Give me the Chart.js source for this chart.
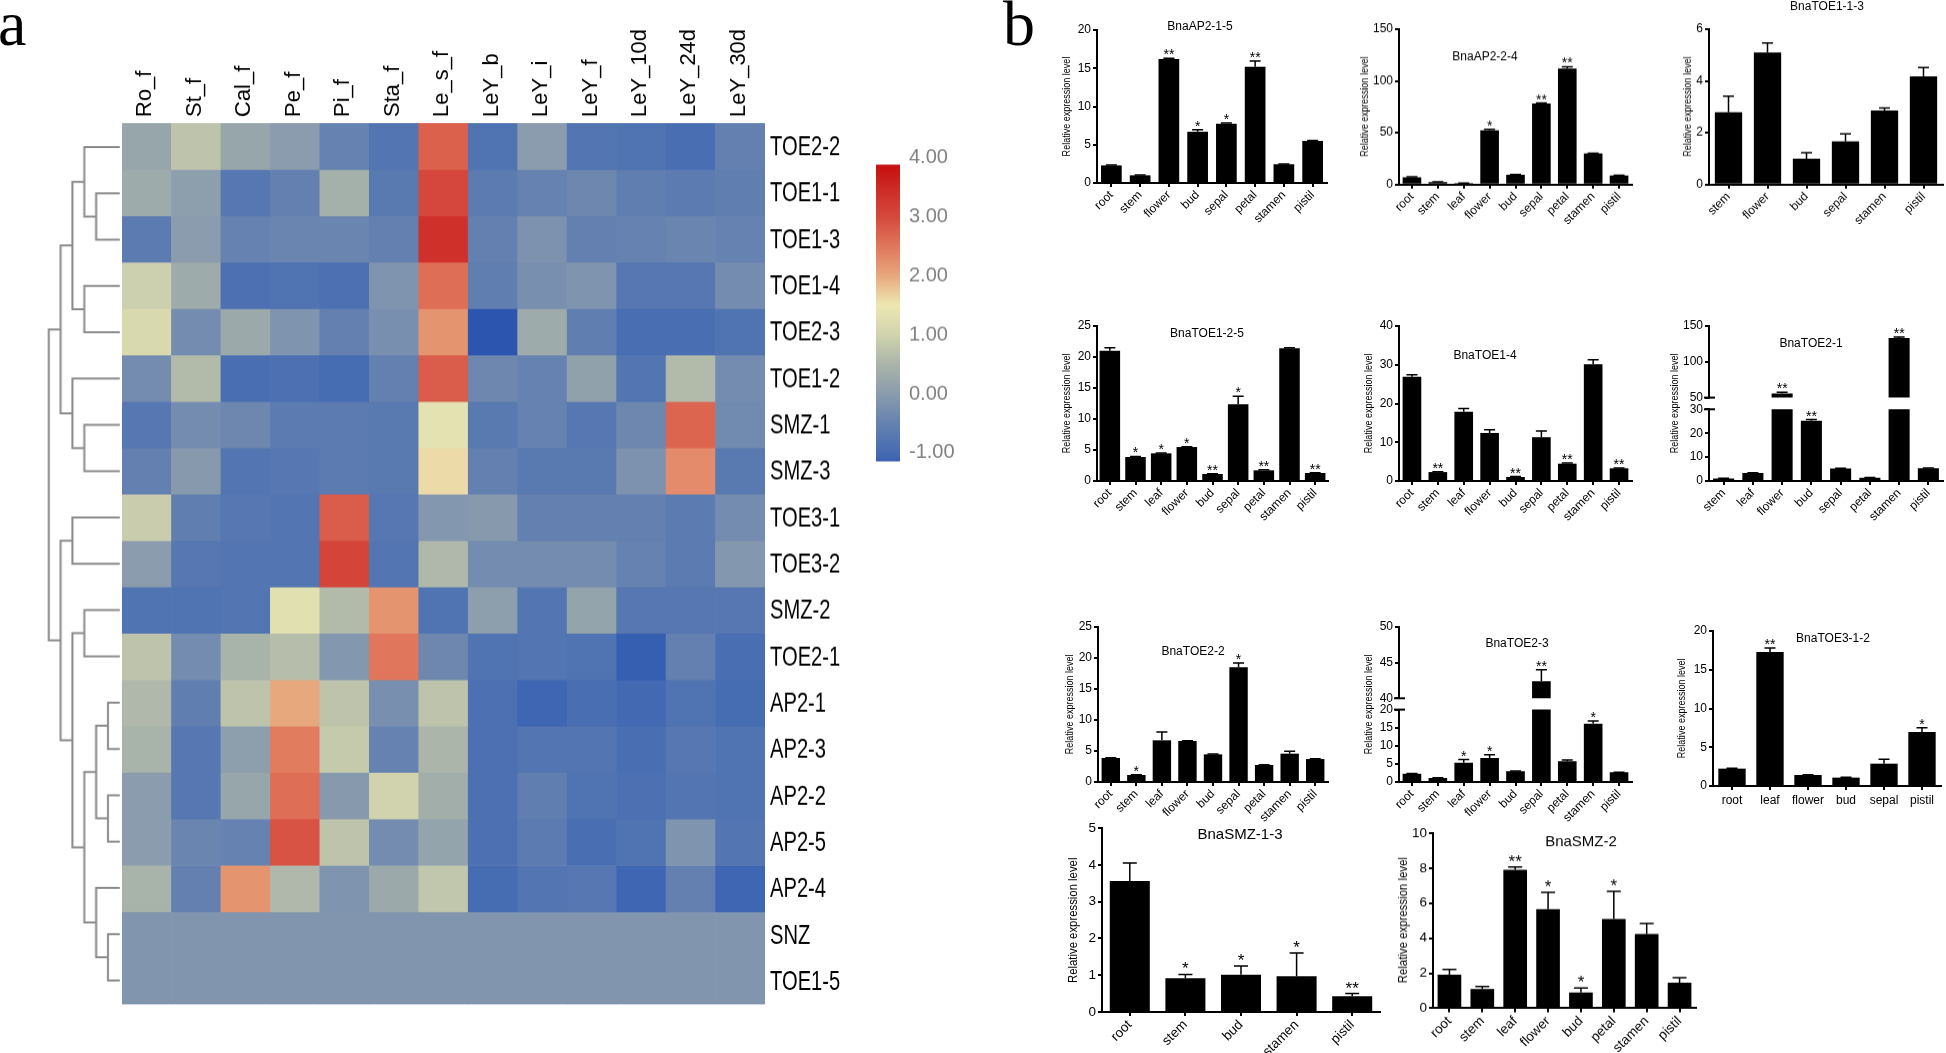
<!DOCTYPE html>
<html><head><meta charset="utf-8">
<script src="https://cdn.jsdelivr.net/npm/chart.js@4.4.0/dist/chart.umd.min.js"></script>
<style>
html,body{margin:0;padding:0;background:#fff;}
body{width:1946px;height:1053px;position:relative;overflow:hidden;}
.letter{position:absolute;font-family:'Liberation Serif','Times New Roman',serif;font-size:64px;line-height:64px;color:#000;}
</style></head><body>
<div class="letter" style="left:-2px;top:-8px">a</div>
<div class="letter" style="left:1003px;top:-8px">b</div>
<script>
// ---------------- DATA ----------------
const heatCols = ['Ro_f','St_f','Cal_f','Pe_f','Pi_f','Sta_f','Le_s_f','LeY_b','LeY_i','LeY_f','LeY_10d','LeY_24d','LeY_30d'];
const heatRows = ['TOE2-2','TOE1-1','TOE1-3','TOE1-4','TOE2-3','TOE1-2','SMZ-1','SMZ-3','TOE3-1','TOE3-2','SMZ-2','TOE2-1','AP2-1','AP2-3','AP2-2','AP2-5','AP2-4','SNZ','TOE1-5'];
const heatValues = [
  [0.2, 0.75, 0.2, 0.0, -0.5, -0.8, 2.75, -0.85, 0.0, -0.8, -0.85, -0.95, -0.55],
  [0.3, 0.05, -0.75, -0.55, 0.4, -0.7, 3.05, -0.65, -0.5, -0.4, -0.6, -0.65, -0.6],
  [-0.65, 0.0, -0.5, -0.45, -0.45, -0.55, 3.4, -0.55, -0.2, -0.55, -0.5, -0.45, -0.5],
  [0.95, 0.3, -0.9, -0.85, -0.9, -0.15, 2.6, -0.6, -0.25, -0.15, -0.75, -0.75, -0.3],
  [1.15, -0.3, 0.25, -0.15, -0.55, -0.25, 2.2, -1.35, 0.3, -0.6, -0.95, -0.95, -0.85],
  [-0.3, 0.6, -0.95, -0.9, -1.0, -0.55, 2.8, -0.4, -0.5, 0.1, -0.8, 0.6, -0.3],
  [-0.75, -0.3, -0.4, -0.65, -0.65, -0.7, 1.35, -0.7, -0.5, -0.75, -0.4, 2.7, -0.35],
  [-0.55, -0.05, -0.8, -0.75, -0.65, -0.7, 1.6, -0.55, -0.7, -0.7, -0.2, 2.3, -0.7],
  [0.9, -0.6, -0.75, -0.8, 2.8, -0.75, -0.1, -0.05, -0.55, -0.55, -0.55, -0.65, -0.3],
  [0.0, -0.75, -0.8, -0.8, 3.1, -0.8, 0.55, -0.3, -0.3, -0.3, -0.5, -0.65, -0.1],
  [-0.85, -0.85, -0.8, 1.3, 0.6, 2.2, -0.85, 0.05, -0.8, 0.15, -0.75, -0.75, -0.75],
  [0.75, -0.3, 0.45, 0.65, -0.1, 2.5, -0.4, -0.85, -0.8, -0.85, -1.2, -0.55, -0.95],
  [0.55, -0.6, 0.75, 2.0, 0.75, -0.25, 0.75, -0.9, -1.1, -0.95, -1.05, -0.85, -1.0],
  [0.45, -0.75, 0.05, 2.45, 0.85, -0.5, 0.5, -0.9, -0.8, -0.8, -0.95, -0.75, -0.85],
  [0.0, -0.75, 0.2, 2.6, -0.05, 1.0, 0.35, -0.9, -0.6, -0.85, -0.9, -0.8, -0.85],
  [0.0, -0.45, -0.5, 2.9, 0.75, -0.3, 0.15, -0.9, -0.65, -0.95, -0.85, -0.15, -0.8],
  [0.45, -0.55, 2.2, 0.55, -0.15, 0.25, 0.8, -1.0, -0.8, -0.75, -1.1, -0.55, -1.1],
  [-0.12, -0.12, -0.12, -0.12, -0.12, -0.12, -0.12, -0.12, -0.12, -0.12, -0.12, -0.12, -0.12],
  [-0.12, -0.12, -0.12, -0.12, -0.12, -0.12, -0.12, -0.12, -0.12, -0.12, -0.12, -0.12, -0.12]
];
// dendrogram merges: [childA, childB, level]; leaves 0..18, new clusters numbered from 19
const dendroMerges = [
  [1,2,2],[0,19,3],[3,4,3],[20,21,4],[6,7,3],[5,23,4],[22,24,5],
  [8,9,4],[10,11,3],[12,13,1],[14,15,1],[28,29,2],[17,18,1],[16,31,2],[30,32,3],[27,33,4],[26,34,5],[25,35,6]
];
const colorbarTicks = [-1,0,1,2,3,4];
const colorbarRange = [-1.14, 3.88];

const ap215Cats = ['root','stem','flower','bud','sepal','petal','stamen','pistil'];
const ap215Vals = [2.3, 1.0, 16.2, 6.7, 7.75, 15.2, 2.45, 5.5];
const ap215Err  = [0.05, 0.05, 0.1, 0.25, 0.08, 0.75, 0.05, 0.05];
const ap215Sig  = ['','','**','*','*','**','',''];
const ap215Ticks = [0,5,10,15,20];

const ap224Cats = ['root','stem','leaf','flower','bud','sepal','petal','stamen','pistil'];
const ap224Vals = [7.1, 2.3, 1.3, 52.3, 9.4, 78.2, 112, 30, 8.7];
const ap224Err  = [0.3, 0.2, 0.2, 1.0, 0.3, 0.5, 1.7, 0.3, 0.3];
const ap224Sig  = ['','','','*','','**','**','',''];
const ap224Ticks = [0,50,100,150];

const toe113Cats = ['stem','flower','bud','sepal','stamen','pistil'];
const toe113Vals = [2.79, 5.1, 1.0, 1.67, 2.86, 4.18];
const toe113Err  = [0.62, 0.37, 0.23, 0.29, 0.1, 0.34];
const toe113Sig  = ['','','','','',''];
const toe113Ticks = [0,2,4,6];

const toe125Cats = ['root','stem','leaf','flower','bud','sepal','petal','stamen','pistil'];
const toe125Vals = [21.0, 3.87, 4.46, 5.48, 1.13, 12.37, 1.72, 21.4, 1.29];
const toe125Err  = [0.5, 0.1, 0.05, 0.05, 0.05, 1.3, 0.1, 0.1, 0.05];
const toe125Sig  = ['','*','*','*','**','*','**','','**'];
const toe125Ticks = [0,5,10,15,20,25];

const toe14Cats = ['root','stem','leaf','flower','bud','sepal','petal','stamen','pistil'];
const toe14Vals = [26.9, 2.3, 17.9, 12.4, 1.03, 11.3, 4.47, 30.1, 3.27];
const toe14Err  = [0.5, 0.1, 0.8, 0.85, 0.1, 1.6, 0.15, 1.2, 0.1];
const toe14Sig  = ['','**','','','**','','**','','**'];
const toe14Ticks = [0,10,20,30,40];

const toe21Cats = ['stem','leaf','flower','bud','sepal','petal','stamen','pistil'];
const toe21Vals = [1.0, 3.3, 55.6, 25.2, 5.2, 1.4, 133.3, 5.3];
const toe21Err  = [0.1, 0.1, 1.8, 0.5, 0.1, 0.1, 1.4, 0.1];
const toe21Sig  = ['','','**','**','','','**',''];
const toe21TicksUpper = [50,100,150];
const toe21TicksLower = [0,10,20,30];

const toe22Cats = ['root','stem','leaf','flower','bud','sepal','petal','stamen','pistil'];
const toe22Vals = [3.87, 1.13, 6.72, 6.61, 4.46, 18.5, 2.74, 4.57, 3.7];
const toe22Err  = [0.05, 0.05, 1.35, 0.05, 0.05, 0.7, 0.05, 0.38, 0.05];
const toe22Sig  = ['','*','','','','*','','',''];
const toe22Ticks = [0,5,10,15,20,25];

const toe23Cats = ['root','stem','leaf','flower','bud','sepal','petal','stamen','pistil'];
const toe23Vals = [2.3, 1.1, 5.35, 6.64, 2.95, 42.4, 5.7, 16.1, 2.67];
const toe23Err  = [0.05, 0.05, 0.85, 0.9, 0.1, 1.6, 0.35, 0.75, 0.05];
const toe23Sig  = ['','','*','*','','**','','*',''];
const toe23TicksUpper = [40,45,50];
const toe23TicksLower = [0,5,10,15,20];

const toe312Cats = ['root','leaf','flower','bud','sepal','pistil'];
const toe312Vals = [2.24, 17.3, 1.42, 1.08, 2.88, 6.97];
const toe312Err  = [0.05, 0.5, 0.04, 0.04, 0.56, 0.56];
const toe312Sig  = ['','**','','','','*'];
const toe312Ticks = [0,5,10,15,20];

const smz13Cats = ['root','stem','bud','stamen','pistil'];
const smz13Vals = [3.56, 0.92, 1.01, 0.97, 0.43];
const smz13Err  = [0.49, 0.1, 0.24, 0.63, 0.07];
const smz13Sig  = ['','*','*','*','**'];
const smz13Ticks = [0,1,2,3,4,5];

const smz2Cats = ['root','stem','leaf','flower','bud','petal','stamen','pistil'];
const smz2Vals = [1.91, 1.1, 7.9, 5.66, 0.9, 5.1, 4.24, 1.45];
const smz2Err  = [0.31, 0.14, 0.17, 0.95, 0.25, 1.58, 0.6, 0.3];
const smz2Sig  = ['','','**','*','*','*','',''];
const smz2Ticks = [0,2,4,6,8,10];

const yTitleText = 'Relative expression level';

// ---------------- STYLE / HELPERS ----------------
const FONT = "'Liberation Sans', Arial, Helvetica, sans-serif";
Chart.defaults.font.family = FONT;
Chart.defaults.color = '#000';
const AXW = 2;

const cmapStops = [
  [-1.4,[40,82,176]],[-1.0,[70,108,178]],[-0.5,[102,130,176]],[0.0,[138,156,173]],
  [0.5,[171,181,169]],[1.0,[208,211,174]],[1.5,[237,232,178]],[2.0,[232,168,126]],
  [2.5,[224,119,92]],[3.0,[214,74,62]],[3.5,[205,42,37]],[4.0,[196,8,8]]
];
function colorFor(v){
  if (v <= cmapStops[0][0]) return 'rgb('+cmapStops[0][1].join(',')+')';
  for (let i=1;i<cmapStops.length;i++){
    if (v <= cmapStops[i][0]){
      const [a,ca]=cmapStops[i-1],[b,cb]=cmapStops[i]; const t=(v-a)/(b-a);
      return 'rgb('+ca.map((c,k)=>Math.round(c+(cb[k]-c)*t)).join(',')+')';
    }
  }
  return 'rgb('+cmapStops[cmapStops.length-1][1].join(',')+')';
}
function addBox(left, top, width, height){
  const d=document.createElement('div');
  d.style.cssText=`position:absolute;left:${left}px;top:${top}px;width:${width}px;height:${height}px;`;
  const c=document.createElement('canvas'); d.appendChild(c); document.body.appendChild(d);
  return c;
}
// condensed text: regular font squeezed horizontally along the text direction
function narrowText(ctx, text, x, y, size, sx, rot){
  ctx.save(); ctx.translate(x,y); if (rot) ctx.rotate(rot); ctx.scale(sx,1);
  ctx.font = size+'px '+FONT; ctx.fillText(text,0,0); ctx.restore();
}
const noPlug = {legend:{display:false}, tooltip:{enabled:false}};

// ---------------- HEATMAP ----------------
(function(){
  const plotL=122, plotR=765, plotTop=123, plotBottom=1003.5, padL=10, padB=26, labW=110;
  const cv = addBox(plotL-padL, 0, (plotR-plotL)+padL+labW, plotBottom+padB);
  const rowLabels = {id:'rowLabels', afterDraw(chart){
    const ctx=chart.ctx, ys=chart.scales.y, ca=chart.chartArea;
    ctx.save(); ctx.fillStyle='#000'; ctx.textAlign='left'; ctx.textBaseline='middle';
    heatRows.forEach((name,i)=>narrowText(ctx, name, ca.right+5, ys.getPixelForValue(i+0.5)+1, 28, 0.72, 0));
    ctx.restore();
  }};
  new Chart(cv, {
    type:'bar',
    data:{labels:heatCols, datasets: heatRows.map((name,r)=>({
      label:name, data: heatCols.map(()=>[r, r+1]),
      backgroundColor: heatValues[r].map(colorFor), borderWidth:0,
      barPercentage:1, categoryPercentage:1 }))},
    options:{responsive:true, maintainAspectRatio:false, animation:false,
      layout:{padding:{left:padL, right:0, top:0, bottom:padB}},
      plugins:noPlug,
      scales:{
        x:{position:'top', stacked:true, grid:{display:false, drawTicks:false}, border:{display:false},
           ticks:{autoSkip:false, minRotation:90, maxRotation:90, padding:6, labelOffset:25, color:'#000', font:{family:FONT, size:22}},
           afterFit:s=>{s.height=plotTop;}},
        y:{position:'right', min:0, max:heatRows.length, reverse:true,
           grid:{display:false, drawTicks:false}, border:{display:false},
           ticks:{display:false},
           afterFit:s=>{s.width=labW;}}
      }},
    plugins:[rowLabels]
  });
})();

// ---------------- DENDROGRAM ----------------
(function(){
  const right=120, perLevel=12, top=123, bottom=1003.5, maxLv=6.4;
  const cv = addBox(right-perLevel*maxLv, top, perLevel*maxLv, bottom-top);
  const nodes = heatRows.map((_,i)=>({y:i+0.5, lv:0}));
  const segs = [];
  dendroMerges.forEach(([a,b,lv])=>{
    const A=nodes[a], B=nodes[b];
    segs.push([{x:A.lv,y:A.y},{x:lv,y:A.y},{x:lv,y:B.y},{x:B.lv,y:B.y}]);
    nodes.push({y:(A.y+B.y)/2, lv:lv});
  });
  new Chart(cv, {type:'scatter',
    data:{datasets: segs.map(p=>({data:p, showLine:true, borderColor:'#8a8a8a', borderWidth:2, pointRadius:0, clip:false, tension:0}))},
    options:{responsive:true, maintainAspectRatio:false, animation:false, layout:{padding:0}, plugins:noPlug,
      scales:{x:{type:'linear', display:false, min:0, max:maxLv, reverse:true},
              y:{type:'linear', display:false, min:0, max:heatRows.length, reverse:true}}}});
})();

// ---------------- COLOR BAR ----------------
(function(){
  const barL=876, barR=900, px=58.8, y4=158, yMax=4.1, yMin=-1.2, labW=70, pad=26;
  const aTop = y4-(yMax-4)*px, aBot = y4+(4-yMin)*px;
  const cv = addBox(barL, aTop-pad, (barR-barL)+labW, (aBot-aTop)+2*pad);
  new Chart(cv, {type:'bar',
    data:{labels:[''], datasets:[{data:[colorbarRange], borderWidth:0, barPercentage:1, categoryPercentage:1,
      backgroundColor:(ctx)=>{
        const ch=ctx.chart; if(!ch.chartArea) return '#888';
        const ys=ch.scales.y; const p0=ys.getPixelForValue(colorbarRange[0]), p1=ys.getPixelForValue(colorbarRange[1]);
        const g=ch.ctx.createLinearGradient(0,p0,0,p1);
        const span=colorbarRange[1]-colorbarRange[0];
        g.addColorStop(0,colorFor(colorbarRange[0]));
        cmapStops.forEach(s=>{const t=(s[0]-colorbarRange[0])/span; if(t>0&&t<1) g.addColorStop(t,colorFor(s[0]));});
        g.addColorStop(1,colorFor(colorbarRange[1]));
        return g;}}]},
    options:{responsive:true, maintainAspectRatio:false, animation:false,
      layout:{padding:{top:pad, bottom:pad, left:0, right:0}}, plugins:noPlug,
      scales:{x:{display:false},
        y:{position:'right', min:yMin, max:yMax, grid:{display:false, drawTicks:false}, border:{display:false},
           afterBuildTicks:s=>{s.ticks=colorbarTicks.map(v=>({value:v}));},
           ticks:{padding:9, color:'#808080', font:{family:FONT, size:20}, callback:v=>Number(v).toFixed(2)},
           afterFit:s=>{s.width=labW;}}}}});
})();

// ---------------- BAR PANELS ----------------
function barPart(spec, part){
  const big = !!spec.big;
  const padLeft=48, padRight=14, padTop=32, padBottom= big?60:52;
  const a = part.area;
  const left = a.l - padLeft;
  const top = part.boxTop!==undefined ? part.boxTop : a.t - padTop;
  const bottomExtra = part.showX ? padBottom : 14;
  const cv = addBox(left, top, a.r+padRight-left, a.b+bottomExtra-top);
  const tickFont = {family:FONT, size: big?13.5:12};
  const deco = {id:'deco', afterDatasetsDraw(chart){
    const ctx=chart.ctx, xs=chart.scales.x, ys=chart.scales.y, ca=chart.chartArea;
    ctx.save(); ctx.strokeStyle='#000'; ctx.fillStyle='#000'; ctx.lineWidth=1.5;
    const cap = big?14:11;
    spec.vals.forEach((v,i)=>{
      if (v < part.min || v > part.max) return;
      const e = spec.err[i]||0;
      const px = xs.getPixelForValue(i), p0=ys.getPixelForValue(v), p1=ys.getPixelForValue(v+e);
      if (e>0){ ctx.beginPath(); ctx.moveTo(px,p0); ctx.lineTo(px,p1); ctx.moveTo(px-cap/2,p1); ctx.lineTo(px+cap/2,p1); ctx.stroke(); }
      if (spec.sig[i]){ ctx.font=(big?17:14)+'px '+FONT; ctx.textAlign='center'; ctx.textBaseline='alphabetic';
        ctx.fillText(spec.sig[i], px, p1+(big?0:1)); }
    });
    if (part.drawTitle){ ctx.font=(big?15:12)+'px '+FONT; ctx.textAlign='center'; ctx.textBaseline='middle';
      ctx.fillText(spec.title, spec.titlePos[0]-left, spec.titlePos[1]-top); }
    if (part.drawYTitle){ ctx.textAlign='center'; ctx.textBaseline='middle';
      narrowText(ctx, yTitleText, spec.yTitlePos[0]-left, spec.yTitlePos[1]-top, big?13.5:11, big?0.84:0.82, -Math.PI/2); }
    ctx.lineWidth=AXW;
    if (part.breakBottom){ ctx.beginPath(); ctx.moveTo(ca.left-5,ca.bottom); ctx.lineTo(ca.left+6,ca.bottom); ctx.stroke(); }
    if (part.breakTop){ ctx.beginPath(); ctx.moveTo(ca.left-5,ca.top); ctx.lineTo(ca.left+6,ca.top); ctx.stroke(); }
    ctx.restore();
  }};
  new Chart(cv, {type:'bar',
    data:{labels:spec.cats, datasets:[{data:spec.vals, backgroundColor:'#000', borderWidth:0, barPercentage:spec.barPct||0.72, categoryPercentage:1}]},
    options:{responsive:true, maintainAspectRatio:false, animation:false,
      layout:{padding:{left:0, right:padRight, top:a.t-top, bottom: part.showX?0:bottomExtra}},
      plugins:noPlug,
      scales:{
        x:{display:part.showX, offset:true,
           grid:{display:true, drawOnChartArea:false, drawTicks:true, tickLength:4, offset:false, color:'#000', lineWidth:AXW},
           border:{display:true, color:'#000', width:AXW},
           ticks:{autoSkip:false, minRotation:spec.rot, maxRotation:spec.rot, padding:spec.rot?1:3, color:'#000', font:tickFont},
           afterFit:s=>{ if(part.showX) s.height=padBottom; }},
        y:{min:part.min, max:part.max,
           grid:{display:true, drawOnChartArea:false, drawTicks:true, tickLength:4, color:'#000', lineWidth:AXW},
           border:{display:true, color:'#000', width:AXW},
           afterBuildTicks:s=>{s.ticks=part.ticks.map(v=>({value:v}));},
           ticks:{padding:2, color:'#000', font:tickFont},
           afterFit:s=>{s.width=padLeft;}}
      }},
    plugins:[deco]});
}
function simplePanel(spec, area, min, max, ticks){
  barPart(spec, {area, min, max, ticks, showX:true, drawTitle:true, drawYTitle:true});
}
function brokenPanel(spec, upArea, upMin, upMax, upTicks, loArea, loMin, loMax, loTicks){
  barPart(spec, {area:loArea, min:loMin, max:loMax, ticks:loTicks, showX:true, boxTop:upArea.t-32, drawTitle:false, drawYTitle:true, breakTop:true});
  barPart(spec, {area:upArea, min:upMin, max:upMax, ticks:upTicks, showX:false, drawTitle:true, drawYTitle:false, breakBottom:true});
}

simplePanel({cats:ap215Cats, vals:ap215Vals, err:ap215Err, sig:ap215Sig, rot:45, title:'BnaAP2-1-5', titlePos:[1200,27], yTitlePos:[1067,106.5]},
  {l:1097,r:1327,t:30,b:183}, 0, 20, ap215Ticks);
simplePanel({cats:ap224Cats, vals:ap224Vals, err:ap224Err, sig:ap224Sig, rot:45, title:'BnaAP2-2-4', titlePos:[1485,57], yTitlePos:[1365,106.5]},
  {l:1399,r:1632,t:29.3,b:184}, 0, 150, ap224Ticks);
simplePanel({cats:toe113Cats, vals:toe113Vals, err:toe113Err, sig:toe113Sig, rot:45, barPct:0.7, title:'BnaTOE1-1-3', titlePos:[1827,7], yTitlePos:[1688,106.5]},
  {l:1709,r:1943,t:29.3,b:184}, 0, 6, toe113Ticks);
simplePanel({cats:toe125Cats, vals:toe125Vals, err:toe125Err, sig:toe125Sig, rot:45, barPct:0.8, title:'BnaTOE1-2-5', titlePos:[1207,333], yTitlePos:[1067,403]},
  {l:1097,r:1328,t:325.7,b:480.7}, 0, 25, toe125Ticks);
simplePanel({cats:toe14Cats, vals:toe14Vals, err:toe14Err, sig:toe14Sig, rot:45, title:'BnaTOE1-4', titlePos:[1485,355], yTitlePos:[1369,403]},
  {l:1399,r:1632,t:325.7,b:480.7}, 0, 40, toe14Ticks);
brokenPanel({cats:toe21Cats, vals:toe21Vals, err:toe21Err, sig:toe21Sig, rot:45, title:'BnaTOE2-1', titlePos:[1811,343], yTitlePos:[1675,403]},
  {l:1709,r:1943,t:325.7,b:397.3}, 50, 150, toe21TicksUpper,
  {l:1709,r:1943,t:409,b:480.7}, 0, 30, toe21TicksLower);
simplePanel({cats:toe22Cats, vals:toe22Vals, err:toe22Err, sig:toe22Sig, rot:45, title:'BnaTOE2-2', titlePos:[1193,651], yTitlePos:[1070,704]},
  {l:1098,r:1328,t:626.7,b:781.7}, 0, 25, toe22Ticks);
brokenPanel({cats:toe23Cats, vals:toe23Vals, err:toe23Err, sig:toe23Sig, rot:45, title:'BnaTOE2-3', titlePos:[1517,643], yTitlePos:[1369,704]},
  {l:1399,r:1632,t:626.7,b:698}, 40, 50, toe23TicksUpper,
  {l:1399,r:1632,t:709.3,b:781.7}, 0, 20, toe23TicksLower);
simplePanel({cats:toe312Cats, vals:toe312Vals, err:toe312Err, sig:toe312Sig, rot:0, title:'BnaTOE3-1-2', titlePos:[1833,638], yTitlePos:[1682,708]},
  {l:1713,r:1941,t:630.7,b:785.7}, 0, 20, toe312Ticks);
simplePanel({cats:smz13Cats, vals:smz13Vals, err:smz13Err, sig:smz13Sig, rot:45, big:true, title:'BnaSMZ-1-3', titlePos:[1240,835], yTitlePos:[1073,920]},
  {l:1102,r:1380,t:827.7,b:1011.7}, 0, 5, smz13Ticks);
simplePanel({cats:smz2Cats, vals:smz2Vals, err:smz2Err, sig:smz2Sig, rot:45, big:true, title:'BnaSMZ-2', titlePos:[1581,842], yTitlePos:[1403,920]},
  {l:1433,r:1696,t:833.3,b:1007.7}, 0, 10, smz2Ticks);
</script>
</body></html>
